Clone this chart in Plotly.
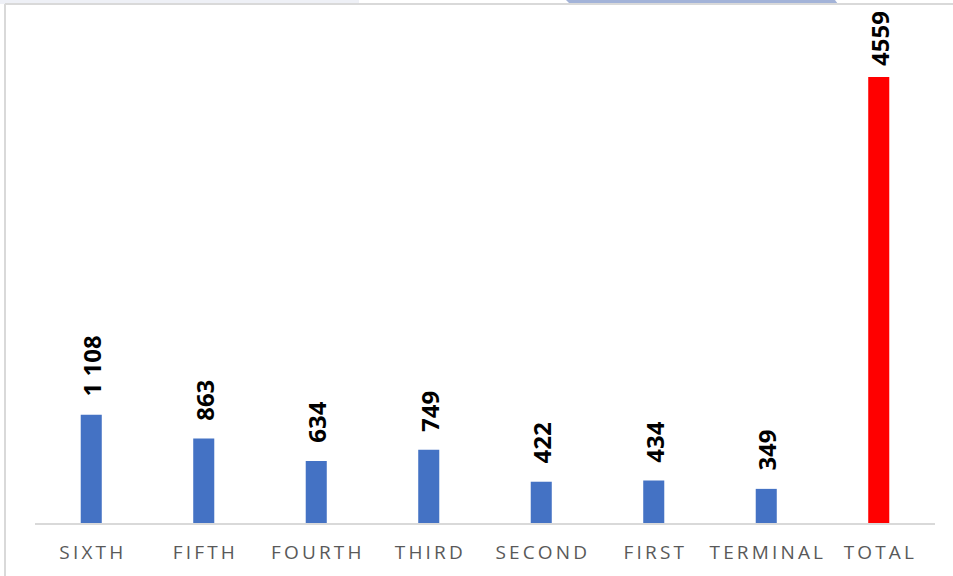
import plotly.graph_objects as go

# data
categories = ["SIXTH", "FIFTH", "FOURTH", "THIRD", "SECOND", "FIRST", "TERMINAL", "TOTAL"]
values = [1108, 863, 634, 749, 422, 434, 349, 4559]
value_labels = ["1 108", "863", "634", "749", "422", "434", "349", "4559"]
bar_colors = ["#4472C4"] * 7 + ["#FF0000"]

W, H = 953, 576
ML, MR, MT, MB = 35, 18, 10, 53
PW, PH = W - ML - MR, H - MT - MB
Y_MAX = 5245
LABEL_SIZE = 24


def px_x(x):
    return (x - ML) / PW


def px_y(y):
    return (H - MB - y) / PH


# spaced-out tick labels (letter spacing imitation)
tick_text = ["\u2009".join(c) for c in categories]

fig = go.Figure(
    go.Bar(
        x=categories,
        y=values,
        marker=dict(color=bar_colors, line=dict(width=0)),
        hoverinfo="x+y",
    )
)

for cat, val, lab in zip(categories, values, value_labels):
    # keep the label inside the plot area, like the spreadsheet does
    bar_top = PH * (1 - val / Y_MAX)
    label_len = len(lab) * 0.57 * LABEL_SIZE
    shift = max(4, min(16, bar_top - label_len - 3))
    fig.add_annotation(
        x=cat, y=val, text=f"<b>{lab}</b>", textangle=-90,
        showarrow=False, xanchor="center", yanchor="bottom", yshift=shift,
        font=dict(family="Open Sans", size=LABEL_SIZE, color="#000000"),
    )

frame = "#D9D9D9"
fig.update_layout(
    width=W, height=H,
    margin=dict(l=ML, r=MR, t=MT, b=MB),
    paper_bgcolor="white", plot_bgcolor="white",
    showlegend=False,
    bargap=0.813,
    xaxis=dict(
        tickmode="array", tickvals=categories, ticktext=tick_text,
        showline=True, linecolor=frame, linewidth=2,
        showgrid=False, ticks="", ticklabelstandoff=11,
        tickfont=dict(family="Open Sans", size=19, color="#595959"),
        fixedrange=True,
    ),
    yaxis=dict(range=[0, Y_MAX], visible=False, showgrid=False, fixedrange=True),
    shapes=[
        # light tab strip at the very top
        dict(type="rect", xref="paper", yref="paper",
             x0=px_x(0), x1=px_x(359), y0=px_y(4), y1=px_y(0),
             fillcolor="#EEF0F6", line=dict(width=0), layer="below"),
        # blue tab strip
        dict(type="path", xref="paper", yref="paper",
             path=f"M {px_x(566)},{px_y(0)} L {px_x(835)},{px_y(0)} "
                  f"L {px_x(838)},{px_y(4)} L {px_x(570)},{px_y(4)} Z",
             fillcolor="#A3B3D8", line=dict(width=0), layer="below"),
        # outer frame lines (left and top)
        dict(type="line", xref="paper", yref="paper",
             x0=px_x(5), x1=px_x(5), y0=px_y(4), y1=px_y(H),
             line=dict(color=frame, width=2)),
        dict(type="line", xref="paper", yref="paper",
             x0=px_x(5), x1=px_x(W), y0=px_y(4), y1=px_y(4),
             line=dict(color=frame, width=2)),
    ],
)

fig.write_html(
    "out.html",
    post_script="document.body.style.margin='0px';",
    config={"displayModeBar": False},
)
